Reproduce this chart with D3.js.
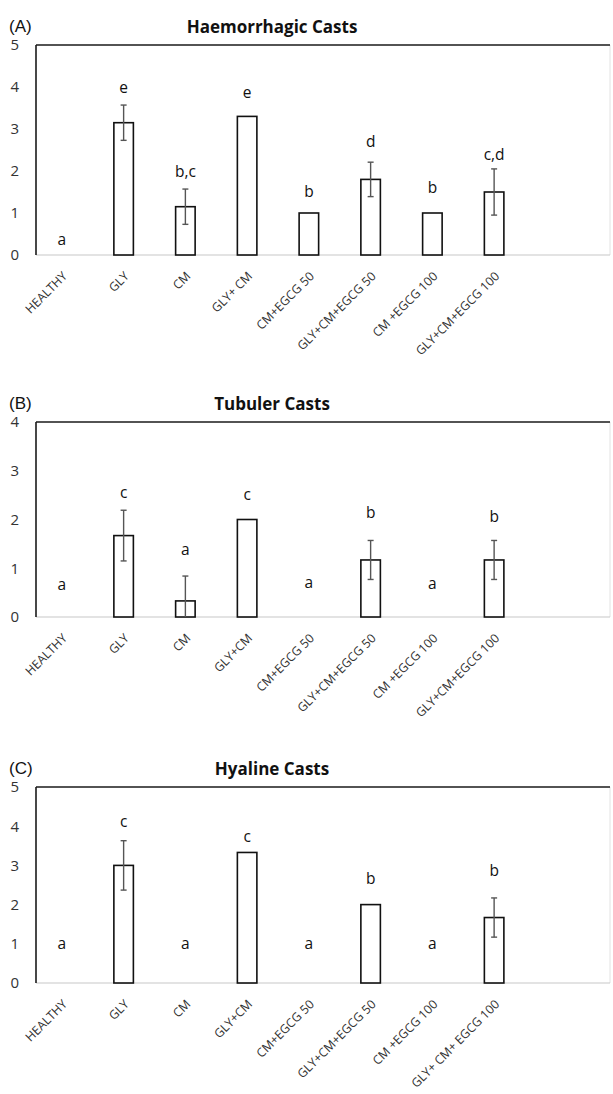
<!DOCTYPE html>
<html>
<head>
<meta charset="utf-8">
<script src="https://cdn.jsdelivr.net/npm/d3@7"></script>
<style>
  body { margin: 0; background: #fff; }
  svg { display: block; font-family: 'Open Sans', Lato, sans-serif; }
</style>
</head>
<body>
<svg width="613" height="1094"></svg>
<script>
// ---- data ----
const categoriesA = ['HEALTHY', 'GLY', 'CM', 'GLY+ CM', 'CM+EGCG 50', 'GLY+CM+EGCG 50', 'CM +EGCG 100', 'GLY+CM+EGCG 100'];
const categoriesB = ['HEALTHY', 'GLY', 'CM', 'GLY+CM', 'CM+EGCG 50', 'GLY+CM+EGCG 50', 'CM +EGCG 100', 'GLY+CM+EGCG 100'];
const categoriesC = ['HEALTHY', 'GLY', 'CM', 'GLY+CM', 'CM+EGCG 50', 'GLY+CM+EGCG 50', 'CM +EGCG 100', 'GLY+ CM+ EGCG 100'];

const meansA = [0, 3.15, 1.15, 3.3, 1, 1.8, 1, 1.5];
const errorsA = [0, 0.42, 0.42, 0, 0, 0.41, 0, 0.55];
const lettersA = ['a', 'e', 'b,c', 'e', 'b', 'd', 'b', 'c,d'];
const letterYA = [0.36, 3.98, 1.98, 3.86, 1.52, 2.69, 1.6, 2.4];

const meansB = [0, 1.67, 0.33, 2, 0, 1.17, 0, 1.17];
const errorsB = [0, 0.52, 0.51, 0, 0, 0.4, 0, 0.4];
const lettersB = ['a', 'c', 'a', 'c', 'a', 'b', 'a', 'b'];
const letterYB = [0.66, 2.56, 1.39, 2.52, 0.7, 2.14, 0.69, 2.06];

const meansC = [0, 3, 0, 3.33, 0, 2, 0, 1.67];
const errorsC = [0, 0.63, 0, 0, 0, 0, 0, 0.5];
const lettersC = ['a', 'c', 'a', 'c', 'a', 'b', 'a', 'b'];
const letterYC = [1, 4.11, 1, 3.73, 1, 2.67, 1, 2.86];

const yTicksA = [0, 1, 2, 3, 4, 5];
const yTicksB = [0, 1, 2, 3, 4];
const yTicksC = [0, 1, 2, 3, 4, 5];

(function (d3) {
  'use strict';

  const svg = d3.select('svg');

  const barPanel = (selection, props) => {
    const {
      tag, title, categories, means, errors, letters, letterY,
      yMax, yTicks, top, bottom
    } = props;

    const left = 36;
    const right = 610;

    const x = d3.scaleBand()
      .domain(categories)
      .range([31, 525])
      .paddingInner(0.684)
      .paddingOuter(0.342);

    const y = d3.scaleLinear()
      .domain([0, yMax])
      .range([bottom, top]);

    const rows = categories.map((c, i) => ({
      cat: c, mean: means[i], err: errors[i], letter: letters[i], ly: letterY[i]
    }));

    const g = selection.append('g');

    // panel tag and title
    g.append('text')
      .attr('x', 9)
      .attr('y', top - 13)
      .attr('font-family', "'Liberation Sans', Arial, sans-serif")
      .attr('font-size', 17)
      .attr('fill', '#111')
      .text(tag);

    g.append('text')
      .attr('x', 272)
      .attr('y', top - 12)
      .attr('text-anchor', 'middle')
      .attr('font-size', 17)
      .attr('font-weight', 700)
      .attr('fill', '#111')
      .text(title);

    // frame: light right edge and grey baseline, dark left and top
    g.append('line')
      .attr('x1', right).attr('x2', right)
      .attr('y1', top).attr('y2', bottom)
      .attr('stroke', '#e2e2e2').attr('stroke-width', 1);

    g.append('line')
      .attr('x1', left).attr('x2', right)
      .attr('y1', bottom).attr('y2', bottom)
      .attr('stroke', '#c8c8c8').attr('stroke-width', 1.2);

    g.append('line')
      .attr('x1', left).attr('x2', right)
      .attr('y1', top).attr('y2', top)
      .attr('stroke', '#1a1a1a').attr('stroke-width', 1.6);

    g.append('line')
      .attr('x1', left).attr('x2', left)
      .attr('y1', top).attr('y2', bottom)
      .attr('stroke', '#1a1a1a').attr('stroke-width', 1.6);

    // y tick labels
    const yAxis = d3.axisLeft(y)
      .tickValues(yTicks)
      .tickSize(0)
      .tickPadding(17)
      .tickFormat(d3.format('d'));

    g.append('g')
      .attr('transform', `translate(${left},0)`)
      .call(yAxis)
      .call(a => a.select('.domain').remove())
      .selectAll('text')
        .attr('font-family', "'Open Sans', sans-serif")
        .attr('font-size', 15)
        .attr('fill', '#333');

    // x labels
    const xAxis = d3.axisBottom(x).tickSize(0);
    g.append('g')
      .attr('transform', `translate(0,${bottom})`)
      .call(xAxis)
      .call(a => a.select('.domain').remove())
      .selectAll('text')
        .attr('font-family', "'Open Sans', sans-serif")
        .attr('font-size', 12.3)
        .attr('fill', '#333')
        .attr('text-anchor', 'end')
        .attr('dy', 0)
        .attr('y', 0)
        .attr('transform', 'translate(6,22) rotate(-45)');

    // bars
    g.selectAll('.bar').data(rows.filter(d => d.mean > 0))
      .enter().append('rect')
        .attr('class', 'bar')
        .attr('x', d => x(d.cat))
        .attr('y', d => y(d.mean))
        .attr('width', x.bandwidth())
        .attr('height', d => y(0) - y(d.mean))
        .attr('fill', '#fff')
        .attr('stroke', '#111')
        .attr('stroke-width', 1.6);

    // error bars
    const cap = 3;
    const eb = g.selectAll('.err').data(rows.filter(d => d.err > 0))
      .enter().append('g')
        .attr('class', 'err')
        .attr('stroke', '#555')
        .attr('stroke-width', 1.4);

    const cx = d => x(d.cat) + x.bandwidth() / 2;
    eb.append('line')
      .attr('x1', cx).attr('x2', cx)
      .attr('y1', d => y(d.mean + d.err))
      .attr('y2', d => y(Math.max(0, d.mean - d.err)));
    eb.append('line')
      .attr('x1', d => cx(d) - cap).attr('x2', d => cx(d) + cap)
      .attr('y1', d => y(d.mean + d.err))
      .attr('y2', d => y(d.mean + d.err));
    eb.filter(d => d.mean - d.err > 0).append('line')
      .attr('x1', d => cx(d) - cap).attr('x2', d => cx(d) + cap)
      .attr('y1', d => y(d.mean - d.err))
      .attr('y2', d => y(d.mean - d.err));

    // significance letters
    g.selectAll('.letter').data(rows)
      .enter().append('text')
        .attr('class', 'letter')
        .attr('x', cx)
        .attr('y', d => y(d.ly))
        .attr('dy', '0.35em')
        .attr('text-anchor', 'middle')
        .attr('font-size', 15.5)
        .attr('fill', '#111')
        .text(d => d.letter);
  };

  svg.call(barPanel, {
    tag: '(A)', title: 'Haemorrhagic Casts',
    categories: categoriesA, means: meansA, errors: errorsA,
    letters: lettersA, letterY: letterYA,
    yMax: 5, yTicks: yTicksA, top: 45, bottom: 255
  });

  svg.call(barPanel, {
    tag: '(B)', title: 'Tubuler Casts',
    categories: categoriesB, means: meansB, errors: errorsB,
    letters: lettersB, letterY: letterYB,
    yMax: 4, yTicks: yTicksB, top: 422, bottom: 617
  });

  svg.call(barPanel, {
    tag: '(C)', title: 'Hyaline Casts',
    categories: categoriesC, means: meansC, errors: errorsC,
    letters: lettersC, letterY: letterYC,
    yMax: 5, yTicks: yTicksC, top: 787, bottom: 983
  });

}(d3));
</script>
</body>
</html>
